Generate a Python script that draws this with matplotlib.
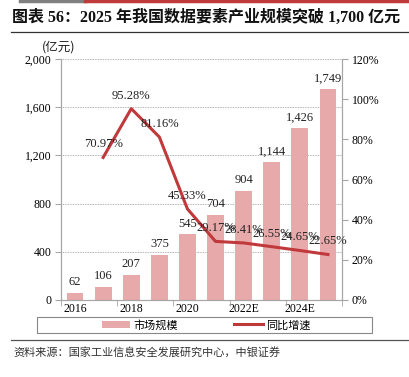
import matplotlib
matplotlib.use("Agg")
import matplotlib.pyplot as plt
import numpy as np
from matplotlib.lines import Line2D
from matplotlib.patches import Patch, Rectangle

years = ["2016", "2017", "2018", "2019", "2020", "2021", "2022E", "2023E", "2024E", "2025E"]
market = [62, 106, 207, 375, 545, 704, 904, 1144, 1426, 1749]
growth_years = years[1:]
growth = [70.97, 95.28, 81.16, 45.33, 29.17, 28.41, 26.55, 24.65, 22.65]
tick_labels = ["2016", "", "2018", "", "2020", "", "2022E", "", "2024E", ""]

SERIF = ["Liberation Serif", "Noto Sans CJK SC"]
CJK = ["Noto Sans CJK SC", "Liberation Serif"]
bar_color = "#E8A9AA"
line_color = "#C0393B"
axis_gray = "#A6A6A6"

fig = plt.figure(figsize=(4.09, 3.77), dpi=100)
W, H = 409, 377
ax = fig.add_axes([61 / W, 1 - 300 / H, (342 - 61) / W, (300 - 59) / H])
ax2 = ax.twinx()

x = np.arange(len(years))
ax.bar(x, market, width=0.6, color=bar_color, zorder=2)
for xi, v in zip(x, market):
    ax.text(xi, v + 40, f"{v:,}", ha="center", va="bottom", fontsize=9,
            family=SERIF, color="#222222", zorder=5)

gx = np.arange(1, len(years))
ax2.plot(gx, growth, color=line_color, lw=2.2, zorder=4)
for xi, v in zip(gx, growth):
    ax2.text(xi, v + 3.5, f"{v:.2f}%", ha="center", va="bottom", fontsize=9,
             family=SERIF, color="#222222", zorder=6)

ax.set_xlim(-0.5, len(years) - 0.5)
ax.set_ylim(0, 2000)
ax.set_yticks(np.arange(0, 2001, 400))
ax.set_yticklabels([f"{v:,}" for v in range(0, 2001, 400)], family=SERIF, fontsize=8.5)
ax2.set_ylim(0, 120)
ax2.set_yticks(np.arange(0, 121, 20))
ax2.set_yticklabels([f"{v}%" for v in range(0, 121, 20)], family=SERIF, fontsize=8.5)

ax.set_xticks(x[::2])
ax.set_xticklabels([t for t in tick_labels if t], family=SERIF, fontsize=8.5)
ax.set_xticks(np.arange(-0.5, len(years), 2), minor=True)
ax.tick_params(axis="x", which="major", length=0, pad=2)
ax.tick_params(axis="x", which="minor", length=4, color=axis_gray, direction="out")
ax.tick_params(axis="y", length=4, color=axis_gray, pad=3)
ax2.tick_params(axis="y", length=4, color=axis_gray, pad=3)

ax.grid(axis="y", color="#9a9a9a", linestyle=(0, (1, 1)), lw=0.6, zorder=0)
ax.set_axisbelow(True)
for a in (ax, ax2):
    a.spines["top"].set_visible(False)
    for s in ("left", "right", "bottom"):
        a.spines[s].set_color(axis_gray)
        a.spines[s].set_linewidth(0.8)
ax.set_zorder(ax2.get_zorder() - 1)
ax.patch.set_visible(False)
ax2.patch.set_visible(False)

fig.text(42 / W, 1 - 47 / H, "(亿元)", family=CJK, fontsize=9, ha="left", va="center", color="#222222")

# Title
fig.text(12 / W, 1 - 18 / H, "图表 56：2025 年我国数据要素产业规模突破 1,700 亿元",
         family=SERIF, fontsize=11.5, fontweight="bold", ha="left", va="center", color="#111111")

# Top decoration lines
fig.add_artist(Line2D([20 / W, 85 / W], [1 - 1 / H, 1 - 1 / H], color="#808080", lw=2.5))
fig.add_artist(Line2D([85 / W, 1.0], [1 - 1 / H, 1 - 1 / H], color="#C0393B", lw=2.5))
fig.add_artist(Line2D([11 / W, 1.0], [1 - 32 / H, 1 - 32 / H], color="#333333", lw=0.9))
fig.add_artist(Line2D([11 / W, 1.0], [1 - 340 / H, 1 - 340 / H], color="#555555", lw=0.9))

# Legend box
fig.add_artist(Rectangle((37 / W, 1 - 333 / H), (372 - 37) / W, 16 / H, transform=fig.transFigure,
                         facecolor="white", edgecolor="#888888", lw=0.8))
handles = [Patch(facecolor=bar_color, edgecolor="none"), Line2D([0], [0], color=line_color, lw=2.2)]
leg = fig.legend(handles, ["市场规模", "同比增速"], loc="center",
                 bbox_to_anchor=(206 / W, 1 - 325 / H), ncol=2, frameon=False,
                 prop={"family": CJK, "size": 8}, columnspacing=5.0, handlelength=2.6,
                 handletextpad=0.3, borderpad=0.1)

fig.text(13 / W, 1 - 352 / H, "资料来源：国家工业信息安全发展研究中心，中银证券",
         family=CJK, fontsize=8, ha="left", va="center", color="#333333")

fig.savefig("out.png", dpi=100)
